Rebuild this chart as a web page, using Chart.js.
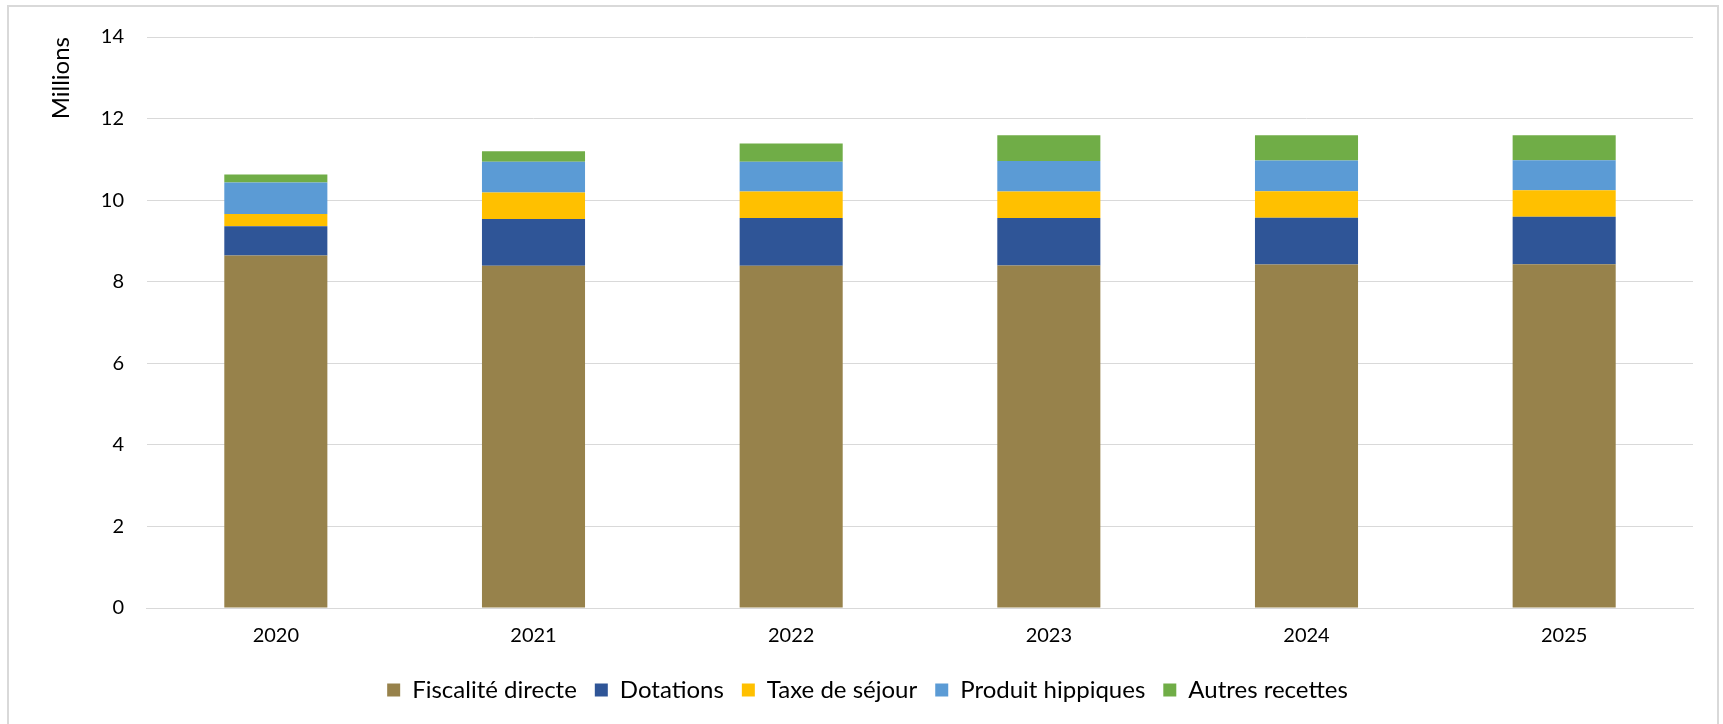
<!DOCTYPE html>
<html>
<head>
<meta charset="utf-8">
<script src="https://cdn.jsdelivr.net/npm/chart.js@4"></script>
<style>
  html, body { margin: 0; padding: 0; background: #fff; }
  #wrap { position: relative; width: 1723px; height: 724px; }
  #frame { position: absolute; left: 7px; top: 5px; width: 1712px; height: 724px; border: 2px solid #d9d9d9; box-sizing: border-box; }
  canvas { position: absolute; left: 0; top: 0; }
</style>
</head>
<body>
<div id="wrap">
  <div id="frame"></div>
  <canvas id="revenueChart" width="1723" height="724"></canvas>
</div>
<script>
const years = ['2020', '2021', '2022', '2023', '2024', '2025'];
const fiscalite = [8.64, 8.39, 8.39, 8.40, 8.42, 8.43];
const dotations = [0.72, 1.15, 1.17, 1.16, 1.15, 1.16];
const taxeSejour = [0.30, 0.65, 0.65, 0.65, 0.65, 0.65];
const produitHippiques = [0.77, 0.75, 0.73, 0.75, 0.75, 0.74];
const autresRecettes = [0.20, 0.26, 0.45, 0.63, 0.62, 0.61];
const yTicks = [0, 2, 4, 6, 8, 10, 12, 14];

const font = 'Lato, "Open Sans", sans-serif';

function serie(label, data, color) {
    return {
        label: label,
        data: data,
        backgroundColor: color,
        borderWidth: 0,
        categoryPercentage: 1.0,
        barPercentage: 0.4
    };
}

const ctx = document.getElementById('revenueChart').getContext('2d');
const revenueChart = new Chart(ctx, {
    type: 'bar',
    data: {
        labels: years,
        datasets: [
            serie('Fiscalité directe', fiscalite, '#97824b'),
            serie('Dotations', dotations, '#2f5597'),
            serie('Taxe de séjour', taxeSejour, '#ffc000'),
            serie('Produit hippiques', produitHippiques, '#5b9bd5'),
            serie('Autres recettes', autresRecettes, '#70ad47')
        ]
    },
    options: {
        responsive: false,
        animation: false,
        layout: {
            padding: { left: 42, right: 30, top: 37, bottom: 12 }
        },
        scales: {
            x: {
                stacked: true,
                grid: { display: false },
                border: { color: '#d9d9d9', width: 1 },
                ticks: { color: '#000', font: { family: font, size: 20 }, padding: 8 },
                afterFit: scale => { scale.height += 4; }
            },
            y: {
                stacked: true,
                min: 0,
                max: 14,
                afterBuildTicks: axis => { axis.ticks = yTicks.map(v => ({ value: v })); },
                grid: { color: '#d9d9d9', lineWidth: 1, drawTicks: false },
                border: { display: false },
                ticks: { color: '#000', font: { family: font, size: 20 }, padding: 23 },
                title: {
                    display: true,
                    text: 'Millions',
                    align: 'end',
                    color: '#000',
                    font: { family: font, size: 24 },
                    padding: { top: 5, bottom: 2 }
                }
            }
        },
        plugins: {
            legend: {
                position: 'bottom',
                labels: {
                    color: '#000',
                    font: { family: font, size: 24 },
                    boxWidth: 13,
                    boxHeight: 13,
                    padding: 18
                }
            },
            tooltip: { enabled: false }
        }
    }
});
</script>
</body>
</html>
